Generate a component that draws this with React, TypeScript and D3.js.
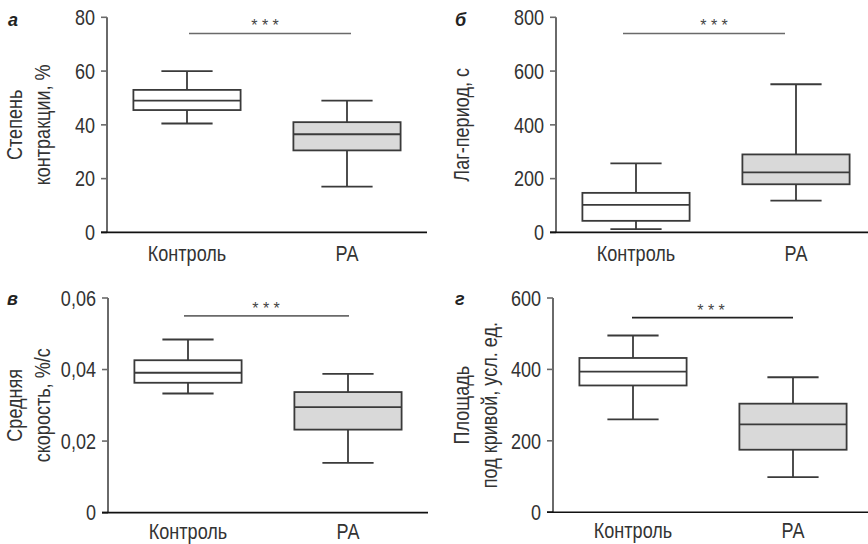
import React from 'react';
import * as d3 from 'd3';

const groups = ['Контроль', 'РА'];

// box stats per group: [min, q1, median, q3, max]
const contraction = [[40.5, 45.5, 49, 53, 60], [17, 30.5, 36.5, 41, 49]];
const lagPeriod = [[12, 43, 102, 147, 257], [118, 179, 223, 290, 551]];
const meanSpeed = [[0.0333, 0.0363, 0.0391, 0.0426, 0.0484], [0.0139, 0.0232, 0.0295, 0.0337, 0.0388]];
const areaUnder = [[260, 355, 394, 432, 495], [98, 175, 246, 304, 378]];

const contractionTicks = [0, 20, 40, 60, 80];
const lagTicks = [0, 200, 400, 600, 800];
const speedTicks = [0, 0.02, 0.04, 0.06];
const areaTicks = [0, 200, 400, 600];

const panelLetters = ['а', 'б', 'в', 'г'];
const yTitles = [
  ['Степень', 'контракции, %'],
  ['Лаг-период, с'],
  ['Средняя', 'скорость, %/с'],
  ['Площадь', 'под кривой, усл. ед.'],
];
const sigLevels = [74, 740, 0.055, 545];
const sigLabel = '* * *';

const ruLocale = d3.formatLocale({ decimal: ',', thousands: ' ', grouping: [3], currency: ['', ''] });
const fmt = ruLocale.format('~g');

const FONT = '"Liberation Sans", Arial, sans-serif';
const SX = 0.84; // condensed look
const FS = 21.5;

const layouts = [
  { left: 107, top: 17.3, bottom: 232.4, titleX: [22, 50], letter: [8, 26], sig: [82, 244], sigColor: '#6a6a6a', lab: 29 },
  { left: 556, top: 17.3, bottom: 232.4, titleX: [469], letter: [455, 26], sig: [67, 229], sigColor: '#6a6a6a', lab: 29 },
  { left: 108, top: 298, bottom: 512.6, titleX: [22, 50], letter: [7, 305], sig: [76, 241], sigColor: '#6a6a6a', lab: 26 },
  { left: 553, top: 298, bottom: 512.2, titleX: [469, 497], letter: [455, 305], sig: [79, 240], sigColor: '#222', lab: 26 },
];

const panels = [
  { stats: contraction, ticks: contractionTicks },
  { stats: lagPeriod, ticks: lagTicks },
  { stats: meanSpeed, ticks: speedTicks },
  { stats: areaUnder, ticks: areaTicks },
];

function NText({ x, y, rotate = 0, anchor = 'start', dy, children }: any) {
  return (
    <text transform={`translate(${x},${y}) rotate(${rotate}) scale(${SX},1)`} textAnchor={anchor} dy={dy}
      fontSize={FS} fill="#333">{children}</text>
  );
}

function Panel({ i }: { i: number }) {
  const { stats, ticks } = panels[i];
  const L = layouts[i];
  const x = d3.scaleBand<string>().domain(groups).range([L.left, L.left + 320]).padding(0);
  const y = d3.scaleLinear().domain([0, d3.max(ticks) as number]).range([L.bottom, L.top]);
  const bw = x.bandwidth();
  const boxW = bw * 0.67;
  const capW = bw * 0.32;
  const midY = (L.top + L.bottom) / 2;
  const sigY = y(sigLevels[i]);

  return (
    <g fontFamily={FONT}>
      {/* panel letter */}
      <text x={L.letter[0]} y={L.letter[1]} fontSize={18} fontWeight="bold" fontStyle="italic" fill="#222">
        {panelLetters[i]}
      </text>

      {/* y title */}
      {yTitles[i].map((t, k) => (
        <NText key={k} x={L.titleX[k]} y={midY} rotate={-90} anchor="middle">{t}</NText>
      ))}

      {/* boxes */}
      {stats.map((s, g) => {
        const cx = (x(groups[g]) as number) + bw / 2;
        const [mn, q1, md, q3, mx] = s.map(v => y(v));
        return (
          <g key={g} stroke="#3a3a3a" strokeWidth={1.8}>
            <line x1={cx} x2={cx} y1={mx} y2={q3} />
            <line x1={cx} x2={cx} y1={q1} y2={mn} />
            <line x1={cx - capW / 2} x2={cx + capW / 2} y1={mx} y2={mx} />
            <line x1={cx - capW / 2} x2={cx + capW / 2} y1={mn} y2={mn} />
            <rect x={cx - boxW / 2} y={q3} width={boxW} height={q1 - q3} fill={g === 0 ? '#fff' : '#d9d9d9'} />
            <line x1={cx - boxW / 2} x2={cx + boxW / 2} y1={md} y2={md} />
          </g>
        );
      })}

      {/* y axis */}
      <line x1={L.left} x2={L.left} y1={L.top} y2={L.bottom} stroke="#6a6a6a" strokeWidth={2} />
      {ticks.map(t => (
        <g key={t}>
          <line x1={L.left - 6} x2={L.left} y1={y(t)} y2={y(t)} stroke={t === 0 ? '#111' : '#6a6a6a'} strokeWidth={1.6} />
          <NText x={L.left - 12} y={y(t)} dy="0.36em" anchor="end">{fmt(t)}</NText>
        </g>
      ))}

      {/* x axis */}
      <line x1={L.left - 6} x2={L.left + 320} y1={L.bottom} y2={L.bottom} stroke="#111" strokeWidth={1.6} />
      {groups.map(g => (
        <NText key={g} x={(x(g) as number) + bw / 2} y={L.bottom + L.lab} anchor="middle">{g}</NText>
      ))}

      {/* significance */}
      <line x1={L.left + L.sig[0]} x2={L.left + L.sig[1]} y1={sigY} y2={sigY} stroke={L.sigColor} strokeWidth={1.6} />
      <text x={L.left + 158} y={sigY - 2} textAnchor="middle" fontSize={16} fill="#444">{sigLabel}</text>
    </g>
  );
}

export default function App() {
  return (
    <svg width={868} height={544} viewBox="0 0 868 544"
      style={{ position: 'absolute', left: 0, top: 0, background: '#fff' }}>
      <rect width={868} height={544} fill="#fff" />
      {[0, 1, 2, 3].map(i => <Panel key={i} i={i} />)}
    </svg>
  );
}
